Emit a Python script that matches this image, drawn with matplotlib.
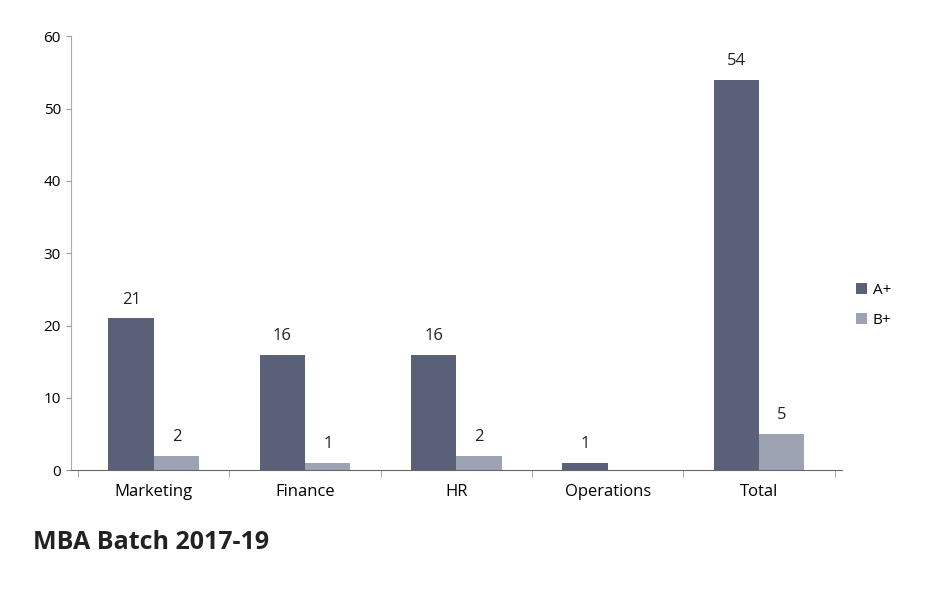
import numpy as np
import matplotlib
matplotlib.use("Agg")
import matplotlib.pyplot as plt

plt.rcParams['font.family'] = ['Open Sans', 'DejaVu Sans']

categories = ["Marketing", "Finance", "HR", "Operations", "Total"]
a_plus = [21, 16, 16, 1, 54]
b_plus = [2, 1, 2, None, 5]

fig = plt.figure(figsize=(9.41, 6.03), dpi=100)
ax = fig.add_axes([0.075, 0.22, 0.82, 0.72])

x = np.arange(len(categories))
w = 0.3
b_vals = [v if v is not None else 0 for v in b_plus]

bars_a = ax.bar(x - w / 2, a_plus, w, color="#5b6079", label="A+")
bars_b = ax.bar(x + w / 2, b_vals, w, color="#9ea3b4", label="B+")

for rect, v in zip(bars_a, a_plus):
    ax.text(rect.get_x() + rect.get_width() / 2, v + 1.5, str(v),
            ha="center", va="bottom", fontsize=12, color="#222222")
for rect, v in zip(bars_b, b_plus):
    if v is None:
        continue
    ax.text(rect.get_x() + rect.get_width() / 2, v + 1.5, str(v),
            ha="center", va="bottom", fontsize=12, color="#222222")

ax.set_ylim(0, 60)
ax.set_yticks(range(0, 61, 10))
ax.set_xlim(-0.55, len(categories) - 0.45)
ax.set_xticks(x)
ax.set_xticklabels(categories, fontsize=12)
ax.tick_params(axis="x", length=0, pad=10)
ax.tick_params(axis="y", labelsize=11, color="#999999")
ax.set_xticks(np.arange(len(categories) + 1) - 0.5, minor=True)
ax.tick_params(axis="x", which="minor", length=5, color="#999999")

for s in ["top", "right"]:
    ax.spines[s].set_visible(False)
ax.spines["left"].set_color("#aaaaaa")
ax.spines["bottom"].set_color("#666666")

ax.legend(loc="center left", bbox_to_anchor=(1.0, 0.38), frameon=False,
          fontsize=11, handlelength=0.7, handleheight=0.7, handletextpad=0.4,
          labelspacing=1.0)

fig.text(0.035, 0.09, "MBA Batch 2017-19", fontsize=18, fontweight="bold",
         color="#222222")

fig.savefig("out.png", dpi=100)
